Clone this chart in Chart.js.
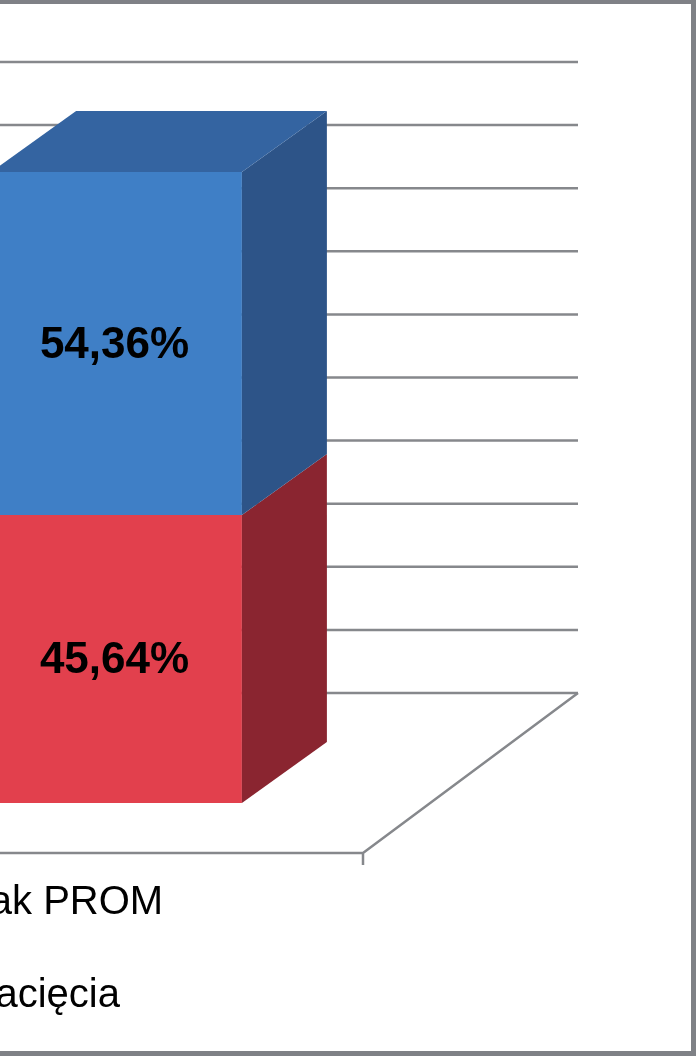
<!DOCTYPE html>
<html>
<head>
<meta charset="utf-8">
<script src="https://cdn.jsdelivr.net/npm/chart.js@4.4.0/dist/chart.umd.min.js"></script>
<style>
  html, body { margin: 0; padding: 0; width: 696px; height: 1056px; overflow: hidden; background: #fff; position: relative; }
  /* the picture is a crop of a wider chart, so the frame runs off to the left */
  #frame { position: absolute; left: -705px; top: 0; width: 1401px; height: 1056px; box-sizing: border-box;
           border: 5px solid #7f8186; border-top-width: 4px; background: #fff; }
  #chart { display: block; }
  #legend { position: absolute; right: 576px; top: 969px; display: flex; white-space: nowrap; color: #000;
            font: 40px 'Liberation Sans', Arial, sans-serif; line-height: 48px; }
  #legend .item { display: flex; align-items: center; margin-left: 36px; }
  #legend .box { width: 24px; height: 24px; margin-right: 12px; }
</style>
</head>
<body>
<div id="frame"><canvas id="chart" width="1391" height="1047"></canvas></div>
<div id="legend"></div>
<script>
// data
const categories = ['Brak PROM'];
const seriesNames = ['Nacięcie', 'Brak nacięcia'];
const nacieciePct = [45.64];
const brakNacieciaPct = [54.36];
const tickValues = [0, 10, 20, 30, 40, 50, 60, 70, 80, 90, 100];

// face colours: front, side, top
const red = { front: '#e2404d', side: '#8a2530', top: '#c7343f' };
const blue = { front: '#3f7fc6', side: '#2d5488', top: '#3464a1' };

// oblique offsets from the bar front plane
const DEPTH = { bar: [85, -61], wall: [148, -110], front: [-67, 50] };
const FONT = "'Liberation Sans', Arial, sans-serif";

const box3d = {
  id: 'box3d',
  beforeDatasetsDraw(chart) {
    const { ctx, chartArea: a, scales: { y } } = chart;
    const [wx, wy] = DEPTH.wall, [fx, fy] = DEPTH.front;
    ctx.save();
    ctx.strokeStyle = '#86888c';
    ctx.lineWidth = 2.5;
    tickValues.forEach(v => {
      const py = y.getPixelForValue(v);
      ctx.beginPath();
      ctx.moveTo(a.left + fx, py + fy);
      ctx.lineTo(a.left + wx, py + wy);
      ctx.lineTo(a.right + wx, py + wy);
      ctx.stroke();
    });
    // floor and category ticks
    const b = y.getPixelForValue(0);
    ctx.beginPath();
    ctx.moveTo(a.left + fx, b + fy);
    ctx.lineTo(a.right + fx, b + fy);
    ctx.lineTo(a.right + wx, b + wy);
    ctx.moveTo(a.left + fx, b + fy);
    ctx.lineTo(a.left + fx, b + fy + 12);
    ctx.moveTo(a.right + fx, b + fy);
    ctx.lineTo(a.right + fx, b + fy + 12);
    ctx.stroke();
    ctx.restore();
  },
  afterDatasetsDraw(chart) {
    const { ctx } = chart;
    const [dx, dy] = DEPTH.bar;
    const n = chart.data.datasets.length;
    const labels = [];
    ctx.save();
    chart.data.datasets.forEach((ds, i) => {
      const meta = chart.getDatasetMeta(i);
      meta.data.forEach((el, j) => {
        const { x, y, base, width } = el.getProps(['x', 'y', 'base', 'width'], true);
        const top = Math.min(y, base), bot = Math.max(y, base);
        const xl = x - width / 2, xr = x + width / 2;
        ctx.fillStyle = ds.faces.side;
        ctx.beginPath();
        ctx.moveTo(xr, top);
        ctx.lineTo(xr + dx, top + dy);
        ctx.lineTo(xr + dx, bot + dy);
        ctx.lineTo(xr, bot);
        ctx.closePath();
        ctx.fill();
        if (i === n - 1) {
          ctx.fillStyle = ds.faces.top;
          ctx.beginPath();
          ctx.moveTo(xl, top);
          ctx.lineTo(xl + dx, top + dy);
          ctx.lineTo(xr + dx, top + dy);
          ctx.lineTo(xr, top);
          ctx.closePath();
          ctx.fill();
        }
        labels.push({ x: x - 2, y: (top + bot) / 2 + 2, v: ds.data[j] });
      });
    });
    ctx.fillStyle = '#000';
    ctx.font = 'bold 44px ' + FONT;
    ctx.textAlign = 'center';
    ctx.textBaseline = 'middle';
    labels.forEach(l => ctx.fillText(l.v.toFixed(2).replace('.', ',') + '%', l.x, l.y));
    ctx.restore();
  }
};

const chart = new Chart(document.getElementById('chart'), {
  type: 'bar',
  data: {
    labels: categories,
    datasets: [
      { label: seriesNames[0], data: nacieciePct, backgroundColor: red.front, faces: red },
      { label: seriesNames[1], data: brakNacieciaPct, backgroundColor: blue.front, faces: blue }
    ]
  },
  options: {
    responsive: false,
    animation: false,
    layout: { padding: { left: 503, right: 261, top: 168, bottom: 126 } },
    datasets: { bar: { barPercentage: 0.4, categoryPercentage: 1 } },
    plugins: { legend: { display: false }, tooltip: { enabled: false } },
    scales: {
      x: {
        stacked: true,
        grid: { display: false, drawTicks: false },
        border: { display: false },
        ticks: { padding: 76, labelOffset: -60, maxRotation: 0, color: '#000', font: { family: FONT, size: 40 } },
        afterFit(s) { s.height = 122; }
      },
      y: { stacked: true, display: false, min: 0, max: 100 }
    }
  },
  plugins: [box3d]
});

// html legend built from the datasets
const legend = document.getElementById('legend');
chart.data.datasets.forEach(ds => {
  const item = document.createElement('div');
  item.className = 'item';
  const box = document.createElement('span');
  box.className = 'box';
  box.style.background = ds.backgroundColor;
  const txt = document.createElement('span');
  txt.textContent = ds.label;
  item.appendChild(box);
  item.appendChild(txt);
  legend.appendChild(item);
});
</script>
</body>
</html>
